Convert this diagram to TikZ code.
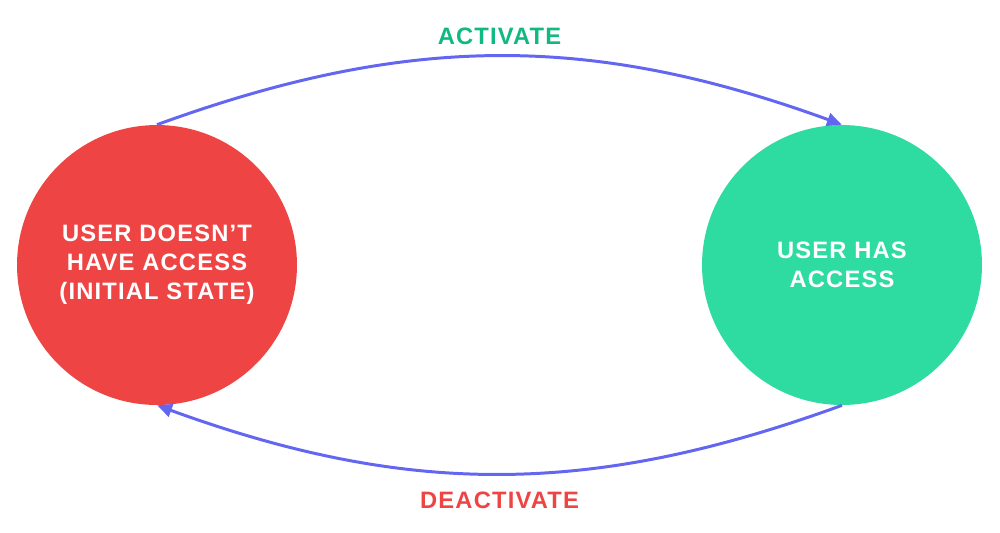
\documentclass[tikz,border=0pt]{standalone}
\usepackage{fontspec}
\setmainfont{Liberation Sans}[LetterSpace=5]
\usetikzlibrary{arrows.meta,positioning}
\definecolor{StateRed}{HTML}{EF4444}
\definecolor{StateGreen}{HTML}{2EDBA1}
\definecolor{LabelGreen}{HTML}{10B981}
\definecolor{FlowBlue}{HTML}{6366F1}

\begin{document}
\begin{tikzpicture}[x=0.02cm, y=-0.02cm,
    font=\fontsize{13.5}{16.5}\selectfont\bfseries,
    every node/.style={align=center},
    state/.style={circle, minimum size=5.6cm, inner sep=0pt, text=white},
    flow/.style={-{Triangle[length=0.3cm,width=0.26cm]}, line width=1.7pt, draw=FlowBlue}]
        \useasboundingbox (0,0) rectangle (1000,532);

        % The two states
        \node[state, fill=StateRed] (noaccess) at (157,265)
          {USER DOESN\textquoteright T\\HAVE ACCESS\\(INITIAL STATE)};
        \node[state, fill=StateGreen] (access) at (842,265) {USER HAS\\ACCESS};

        % Transitions
        \draw[flow] (noaccess.north) to[bend left=20]
          node[midway, above=0.08cm, text=LabelGreen] (activate) {ACTIVATE} (access.north);
        \draw[flow] (access.south) to[bend left=20]
          node[midway, below=0.22cm, text=StateRed] (deactivate) {DEACTIVATE} (noaccess.south);
      \end{tikzpicture}
\end{document}
